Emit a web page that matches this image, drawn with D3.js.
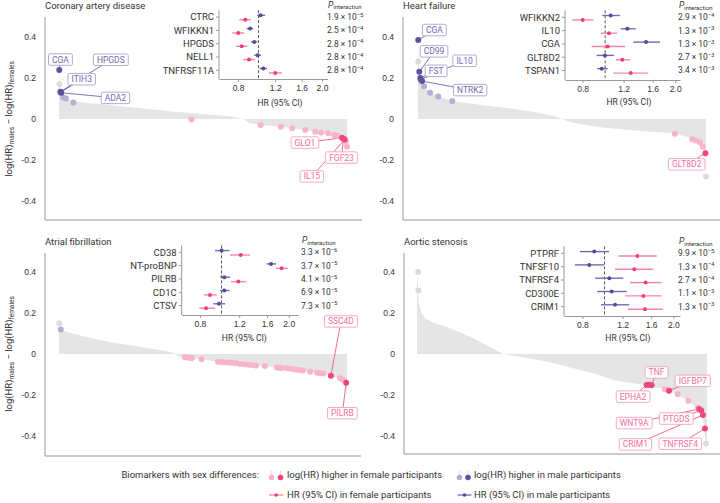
<!DOCTYPE html>
<html><head><meta charset="utf-8">
<script src="https://cdn.jsdelivr.net/npm/d3@7/dist/d3.min.js"></script>
<style>
html,body{margin:0;padding:0;background:#fff;}
svg{display:block;font-family:Roboto,"Liberation Sans",Arial,sans-serif;}
</style></head><body>
<svg id="chart" width="720" height="503"></svg>
<script>
// ================= DATA =================
const panelTitles = ["Coronary artery disease", "Heart failure", "Atrial fibrillation", "Aortic stenosis"];
const diffTicks = [-0.4, -0.2, 0, 0.2, 0.4];
const hrTicks = [0.8, 1.2, 1.6, 2.0];

// Sorted log(HR)males - log(HR)females over all biomarkers (rank in % of biomarkers)
const cadEnvRank = [0,0.25,0.5,1.2,2.5,5,10,20,30,40,50,60,64,66,70,77,81,85,89,92,95,97.5,99,99.6,100];
const cadEnvDiff = [0.24,0.17,0.135,0.11,0.10,0.085,0.078,0.065,0.05,0.035,0.025,0.012,0.0,-0.02,-0.029,-0.038,-0.045,-0.054,-0.062,-0.07,-0.078,-0.089,-0.099,-0.111,-0.135];
const hfEnvRank = [0,0.2,0.45,1,2,4,7,12,20,30,40,47,50,52,61,73,89,95.5,97.5,99,99.8,100];
const hfEnvDiff = [0.385,0.28,0.23,0.195,0.16,0.13,0.11,0.088,0.072,0.055,0.035,0.015,0.0,-0.012,-0.037,-0.054,-0.07,-0.095,-0.11,-0.135,-0.175,-0.28];
const afEnvRank = [0,0.3,2.5,8,14,20,26,32,37,40,42,50,55,62,68,75,80,84,87,90,94,97,98.5,99.3,99.7,100];
const afEnvDiff = [0.15,0.12,0.108,0.088,0.068,0.053,0.04,0.026,0.015,0.005,-0.016,-0.026,-0.038,-0.045,-0.055,-0.066,-0.075,-0.08,-0.086,-0.092,-0.105,-0.12,-0.13,-0.14,-0.17,-0.21];
const asEnvRank = [0,0.4,0.6,1.5,2.8,6,10,15,19.4,25,29.7,35,44.7,50,56.2,62,67.7,73,79.2,86,90,93,97,98.7,99.3,99.7,100];
const asEnvDiff = [0.4,0.31,0.25,0.2,0.174,0.15,0.133,0.105,0.077,0.035,0.0,-0.012,-0.037,-0.055,-0.078,-0.1,-0.127,-0.14,-0.151,-0.176,-0.2,-0.224,-0.265,-0.322,-0.40,-0.44,-0.45];

// Highlighted biomarkers: [rank %, difference, kind, name]
// kind: n = not significant, m/M = higher in males (light/dark), f/F = higher in females (light/dark)
const cadPoints = [
  [0.15,0.17,"n"],[0.1,0.239,"M","CGA"],[0.5,0.133,"M","HPGDS"],[0.6,0.13,"M","ITIH3"],[0.75,0.128,"M","ADA2"],
  [1.5,0.105,"m"],[2.4,0.1,"m"],[5,0.08,"m"],
  [46,-0.002,"f"],[70,-0.029,"f"],[77,-0.038,"f"],[81,-0.045,"f"],[85.5,-0.054,"f"],[89,-0.062,"f"],[91,-0.066,"f"],
  [93.5,-0.07,"f"],[95.5,-0.078,"f"],[96.5,-0.082,"f"],
  [98.3,-0.092,"F","GLO1"],[98.8,-0.097,"F","FGF23"],[99.2,-0.1,"F","IL15"],[99.6,-0.111,"f"],[100,-0.135,"f"]
];
const hfPoints = [
  [0.1,0.28,"n"],[0.1,0.385,"M","CGA"],[0.45,0.23,"M","CD99"],[0.8,0.2,"M","FST"],[1.0,0.193,"M","IL10"],[1.4,0.185,"M","NTRK2"],
  [2.1,0.16,"m"],[4.2,0.128,"m"],[7.0,0.11,"m"],[11.9,0.088,"m"],
  [89.2,-0.072,"f"],[95.2,-0.099,"f"],[96.5,-0.105,"f"],[97.9,-0.115,"f"],[98.9,-0.135,"f"],
  [99.8,-0.167,"F","GLT8D2"],[100,-0.28,"n"]
];
const afPoints = [
  [0.1,0.15,"n"],[0.6,0.12,"m"],
  [43.75,-0.016,"f"],[44.6,-0.017,"f"],[45.5,-0.018,"f"],[46.2,-0.02,"f"],[49.5,-0.026,"f"],
  [55.2,-0.038,"f"],[56.25,-0.039,"f"],[57.3,-0.04,"f"],[58.7,-0.042,"f"],[60.1,-0.043,"f"],[61.5,-0.045,"f"],
  [62.8,-0.049,"f"],[64.2,-0.05,"f"],[65.6,-0.052,"f"],[67,-0.054,"f"],[68.4,-0.056,"f"],[71.5,-0.059,"f"],
  [75.7,-0.066,"f"],[76.7,-0.067,"f"],[77.4,-0.068,"f"],[79.2,-0.07,"f"],[80.6,-0.072,"f"],[81.9,-0.075,"f"],
  [83.3,-0.078,"f"],[84.7,-0.08,"f"],[87.2,-0.086,"f"],[89.6,-0.092,"f"],[90.6,-0.093,"f"],[91.7,-0.095,"f"],
  [94.4,-0.106,"F","SSC4D"],[97.6,-0.118,"f"],[98.6,-0.126,"f"],[99.7,-0.14,"F","PILRB"]
];
const asPoints = [
  [0.4,0.4,"n"],[0.45,0.31,"n"],
  [79.2,-0.151,"F","EPHA2"],[80.0,-0.15,"F"],[80.9,-0.152,"F","TNF"],
  [85.5,-0.172,"f"],[86.9,-0.179,"F","IGFBP7"],[89.9,-0.196,"f"],[93.6,-0.228,"f"],[96.8,-0.262,"f"],
  [97.3,-0.268,"F","WNT9A"],[98.0,-0.276,"F","PTGDS"],[98.6,-0.298,"F","CRIM1"],[99.3,-0.363,"F","TNFRSF4"],[99.7,-0.436,"n"]
];

// Label boxes: [name, rank %, difference] of the box centre
const cadLabels = [["CGA",0.5,0.29],["HPGDS",18,0.289],["ITIH3",7.9,0.194],["ADA2",19.6,0.103],["GLO1",85.4,-0.115],["FGF23",98.1,-0.188],["IL15",87.8,-0.28]];
const hfLabels = [["CGA",5.7,0.434],["CD99",5.56,0.33],["FST",6.3,0.235],["IL10",16.2,0.284],["NTRK2",18.1,0.141],["GLT8D2",93.3,-0.221]];
const afLabels = [["SSC4D",97.9,0.159],["PILRB",98.4,-0.289]];
const asLabels = [["TNF",82.6,-0.09],["EPHA2",74.5,-0.208],["IGFBP7",95.1,-0.131],["WNT9A",74.9,-0.337],["PTGDS",89.4,-0.315],["CRIM1",75.3,-0.441],["TNFRSF4",90.8,-0.438]];

// Forest-plot insets: HR (95% CI) by sex, P for interaction
const cadInsetNames = ["CTRC","WFIKKN1","HPGDS","NELL1","TNFRSF11A"];
const cadMaleHR = [1.024,0.912,0.955,0.991,1.054], cadMaleLo = [0.987,0.879,0.922,0.955,1.013], cadMaleHi = [1.073,0.945,0.987,1.028,1.097];
const cadFemaleHR = [0.866,0.802,0.833,0.902,1.201], cadFemaleLo = [0.811,0.751,0.782,0.847,1.121], cadFemaleHi = [0.922,0.857,0.885,0.963,1.292];
const cadPMant = ["1.9","2.5","2.8","2.8","2.8"], cadPExp = [-5,-4,-4,-4,-4];

const hfInsetNames = ["WFIKKN2","IL10","CGA","GLT8D2","TSPAN1"];
const hfMaleHR = [1.056,1.245,1.498,0.998,0.966], hfMaleLo = [0.972,1.166,1.321,0.919,0.925], hfMaleHi = [1.158,1.353,1.720,1.091,1.025];
const hfFemaleHR = [0.80,1.038,1.025,1.184,1.287], hfFemaleLo = [0.722,0.959,0.875,1.113,1.083], hfFemaleHi = [0.889,1.127,1.217,1.278,1.532];
const hfPMant = ["2.9","1.3","1.3","2.7","3.4"], hfPExp = [-4,-3,-3,-3,-3];

const afInsetNames = ["CD38","NT-proBNP","PILRB","CD1C","CTSV"];
const afMaleHR = [1.0,1.666,1.029,1.029,0.974], afMaleLo = [0.935,1.593,0.985,0.985,0.919], afMaleHi = [1.084,1.754,1.092,1.084,1.037];
const afFemaleHR = [1.219,1.859,1.189,0.888,0.852], afFemaleLo = [1.092,1.749,1.103,0.835,0.795], afFemaleHi = [1.342,1.978,1.287,0.952,0.935];
const afPMant = ["3.3","3.7","4.1","6.9","7.3"], afPExp = [-6,-5,-5,-5,-5];

const asInsetNames = ["PTPRF","TNFSF10","TNFRSF4","CD300E","CRIM1"];
const asMaleHR = [0.902,0.858,1.049,1.075,1.112], asMaleLo = [0.781,0.743,0.909,0.930,0.965], asMaleHi = [1.046,0.995,1.208,1.251,1.284];
const asFemaleHR = [1.392,1.350,1.514,1.479,1.503], asFemaleLo = [1.149,1.111,1.293,1.229,1.264], asFemaleHi = [1.692,1.635,1.779,1.779,1.797];
const asPMant = ["9.9","1.3","2.7","1.1","1.3"], asPExp = [-5,-4,-4,-3,-3];

const legendTitle = "Biomarkers with sex differences:";
const legendTexts = ["log(HR) higher in female participants","log(HR) higher in male participants","HR (95% CI) in female participants","HR (95% CI) in male participants"];

// ================= STYLE =================
const C = {
  fDark:"#ef467b", fLight:"#f8b4c9", mDark:"#5f519e", mLight:"#b4add6", nDot:"#dcdcdc",
  area:"#e5e5e5", axis:"#999", text:"#333",
  fLabel:"#f0709a", fBox:"#f5a2be", mLabel:"#7567b2", mBox:"#aaa2d2",
  fLine:"#f585aa", fPt:"#ee3f76", mLine:"#7568b2", mPt:"#574a99"
};
const svg = d3.select("#chart");

// ================= MAIN PANELS =================
const panels = [
  {title:panelTitles[0], ax:45, x0:59, w:288, zeroY:119, top:17, bottom:220, xEnd:362, titleY:9, env:[cadEnvRank,cadEnvDiff], pts:cadPoints, labels:cadLabels},
  {title:panelTitles[1], ax:403, x0:418, w:288, zeroY:119, top:17, bottom:220, xEnd:720, titleY:9, env:[hfEnvRank,hfEnvDiff], pts:hfPoints, labels:hfLabels},
  {title:panelTitles[2], ax:45, x0:59, w:288, zeroY:354, top:253, bottom:456, xEnd:361, titleY:244.5, env:[afEnvRank,afEnvDiff], pts:afPoints, labels:afLabels},
  {title:panelTitles[3], ax:404, x0:417, w:290, zeroY:354, top:253, bottom:454, xEnd:720, titleY:244.5, env:[asEnvRank,asEnvDiff], pts:asPoints, labels:asLabels}
];

panels.forEach(p => {
  const g = svg.append("g");
  const x = d3.scaleLinear().domain([0,100]).range([p.x0, p.x0 + p.w]);
  const y = d3.scaleLinear().domain([-0.4,0.4]).range([p.zeroY + 82, p.zeroY - 82]);

  g.append("text").attr("x", p.ax).attr("y", p.titleY).attr("font-size", 9.5).attr("fill", C.text).text(p.title);

  const envData = p.env[0].map((r,i) => [r, p.env[1][i]]);
  g.append("path").datum(envData)
    .attr("d", d3.area().x(d => x(d[0])).y0(y(0)).y1(d => y(d[1])))
    .attr("fill", C.area);

  g.append("line").attr("x1", p.ax).attr("x2", p.ax).attr("y1", p.top).attr("y2", p.bottom).attr("stroke", C.axis);
  g.append("line").attr("x1", p.ax).attr("x2", p.xEnd).attr("y1", p.bottom).attr("y2", p.bottom).attr("stroke", C.axis);
  const ya = g.append("g").attr("transform", `translate(${p.ax},0)`)
    .call(d3.axisLeft(y).tickValues(diffTicks).tickSize(0).tickPadding(9).tickFormat(d => d === 0 ? "0" : d.toFixed(1)));
  ya.select(".domain").remove();
  ya.selectAll("text").attr("font-size", 8.5).attr("fill", C.text).attr("font-family", null);

  const lineG = g.append("g");
  const dotG = g.append("g");
  const boxG = g.append("g");
  p.labels.forEach(l => {
    const pt = p.pts.find(d => d[3] === l[0]);
    const fem = pt[1] < 0;
    lineG.append("line").attr("x1", x(l[1])).attr("y1", y(l[2])).attr("x2", x(pt[0])).attr("y2", y(pt[1]))
      .attr("stroke", fem ? C.fDark : C.mDark).attr("stroke-width", 0.8);
  });

  const order = {n:0, m:1, f:1, M:2, F:2};
  const col = {n:C.nDot, m:C.mLight, f:C.fLight, M:C.mDark, F:C.fDark};
  const sorted = p.pts.slice().sort((a,b) => order[a[2]] - order[b[2]]);
  dotG.selectAll("circle").data(sorted).join("circle")
    .attr("cx", d => x(d[0])).attr("cy", d => y(d[1])).attr("r", 3)
    .attr("fill", d => col[d[2]]);

  p.labels.forEach(l => {
    const pt = p.pts.find(d => d[3] === l[0]);
    const fem = pt[1] < 0;
    const bg = boxG.append("g");
    const rect = bg.append("rect");
    const t = bg.append("text").attr("x", x(l[1])).attr("y", y(l[2])).attr("dy", "0.35em")
      .attr("text-anchor", "middle").attr("font-size", 8.5).attr("fill", fem ? C.fLabel : C.mLabel).text(l[0]);
    const tw = t.node().getComputedTextLength();
    const bw = tw + 7, bh = 11.5;
    rect.attr("x", x(l[1]) - bw/2).attr("y", y(l[2]) - bh/2).attr("width", bw).attr("height", bh)
      .attr("rx", 1.5).attr("fill", "#fff").attr("stroke", fem ? C.fBox : C.mBox).attr("stroke-width", 0.9);
  });
});

[119, 354].forEach(cy => {
  const t = svg.append("text").attr("transform", `translate(12,${cy}) rotate(-90)`)
    .attr("text-anchor", "middle").attr("font-size", 9.5).attr("fill", C.text);
  t.append("tspan").text("log(HR)");
  t.append("tspan").attr("font-size", 6.5).attr("dy", 2).text("males");
  t.append("tspan").attr("dy", -2).text(" \u2212 log(HR)");
  t.append("tspan").attr("font-size", 6.5).attr("dy", 2).text("females");
});

// ================= INSETS =================
const insets = [
  {names:cadInsetNames, mHR:cadMaleHR, mLo:cadMaleLo, mHi:cadMaleHi, fHR:cadFemaleHR, fLo:cadFemaleLo, fHi:cadFemaleHi, pm:cadPMant, pe:cadPExp,
   domain:[0.65,2.123], range:[219,327.5], row0:17.1, axisY:79, pX:327, hrY:106},
  {names:hfInsetNames, mHR:hfMaleHR, mLo:hfMaleLo, mHi:hfMaleHi, fHR:hfFemaleHR, fLo:hfFemaleLo, fHi:hfFemaleHi, pm:hfPMant, pe:hfPExp,
   domain:[0.672,2.097], range:[565,680], row0:17.3, axisY:80, pX:678, hrY:105},
  {names:afInsetNames, mHR:afMaleHR, mLo:afMaleLo, mHi:afMaleHi, fHR:afFemaleHR, fLo:afFemaleLo, fHi:afFemaleHi, pm:afPMant, pe:afPExp,
   domain:[0.663,2.207], range:[181.7,298.3], row0:252.4, axisY:315, pX:301, hrY:341},
  {names:asInsetNames, mHR:asMaleHR, mLo:asMaleLo, mHi:asMaleHi, fHR:asFemaleHR, fLo:asFemaleLo, fHi:asFemaleHi, pm:asPMant, pe:asPExp,
   domain:[0.665,2.139], range:[564,680], row0:253.4, axisY:316, pX:678, hrY:341}
];

insets.forEach(ins => {
  const g = svg.append("g");
  const hx = d3.scaleLog().domain(ins.domain).range(ins.range);
  const rowY = i => ins.row0 + i * 13.3;
  const x0 = ins.range[0];

  g.append("line").attr("x1", x0).attr("x2", x0).attr("y1", ins.row0 - 7).attr("y2", ins.axisY).attr("stroke", C.axis);
  ins.names.forEach((n, i) => {
    g.append("line").attr("x1", x0 - 3).attr("x2", x0).attr("y1", rowY(i)).attr("y2", rowY(i)).attr("stroke", C.axis);
    g.append("text").attr("x", x0 - 5).attr("y", rowY(i)).attr("dy", "0.35em").attr("text-anchor", "end")
      .attr("font-size", 9.5).attr("fill", C.text).text(n);
  });
  const xa = g.append("g").attr("transform", `translate(0,${ins.axisY})`)
    .call(d3.axisBottom(hx).tickValues(hrTicks).tickSize(3).tickSizeOuter(0).tickPadding(3).tickFormat(d3.format(".1f")));
  xa.select(".domain").attr("stroke", C.axis);
  xa.selectAll(".tick line").attr("stroke", C.axis);
  xa.selectAll("text").attr("font-size", 8.5).attr("fill", C.text).attr("font-family", null);
  g.append("text").attr("x", (hx(0.8) + hx(2.0)) / 2).attr("y", ins.hrY).attr("text-anchor", "middle")
    .attr("font-size", 8.5).attr("fill", C.text).text("HR (95% CI)");

  g.append("line").attr("x1", hx(1)).attr("x2", hx(1)).attr("y1", ins.row0 - 7).attr("y2", ins.axisY)
    .attr("stroke", "#444").attr("stroke-width", 0.9).attr("stroke-dasharray", "3,2");

  ins.names.forEach((n, i) => {
    const ym = rowY(i) - 1.8, yf = rowY(i) + 2.6;
    g.append("line").attr("x1", hx(ins.mLo[i])).attr("x2", hx(ins.mHi[i])).attr("y1", ym).attr("y2", ym)
      .attr("stroke", C.mLine).attr("stroke-width", 1.4);
    g.append("circle").attr("cx", hx(ins.mHR[i])).attr("cy", ym).attr("r", 2).attr("fill", C.mPt);
    g.append("line").attr("x1", hx(ins.fLo[i])).attr("x2", hx(ins.fHi[i])).attr("y1", yf).attr("y2", yf)
      .attr("stroke", C.fLine).attr("stroke-width", 1.4);
    g.append("circle").attr("cx", hx(ins.fHR[i])).attr("cy", yf).attr("r", 2).attr("fill", C.fPt);

    const t = g.append("text").attr("x", ins.pX).attr("y", rowY(i)).attr("dy", "0.35em")
      .attr("font-size", 8.4).attr("fill", C.text);
    t.append("tspan").text(ins.pm[i] + " \u00d7 10");
    t.append("tspan").attr("font-size", 6).attr("dy", -3.3).text("\u2212" + Math.abs(ins.pe[i]));
  });

  const h = g.append("text").attr("x", ins.pX + 1).attr("y", ins.row0 - 9.2).attr("font-size", 8.6).attr("fill", C.text);
  h.append("tspan").attr("font-style", "italic").text("P");
  h.append("tspan").attr("font-size", 6).attr("dy", 1.5).text("interaction");
});

// ================= LEGEND =================
const lg = svg.append("g");
const ly1 = 474.5, ly2 = 495;
lg.append("text").attr("x", 259).attr("y", ly1).attr("dy", "0.35em").attr("text-anchor", "end")
  .attr("font-size", 9.5).attr("fill", C.text).text(legendTitle);
[[271.5, C.fLight], [280.5, C.fDark], [459.5, C.mLight], [468, C.mDark]].forEach(d => {
  lg.append("line").attr("x1", d[0]).attr("x2", d[0]).attr("y1", ly1 - 4).attr("y2", ly1 + 3).attr("stroke", "#e3e3e3").attr("stroke-width", 1.5);
  lg.append("circle").attr("cx", d[0]).attr("cy", ly1 + 3).attr("r", 2.8).attr("fill", d[1]);
});
lg.append("text").attr("x", 287).attr("y", ly1).attr("dy", "0.35em").attr("font-size", 9.5).attr("fill", C.text).text(legendTexts[0]);
lg.append("text").attr("x", 474).attr("y", ly1).attr("dy", "0.35em").attr("font-size", 9.5).attr("fill", C.text).text(legendTexts[1]);
[[269, 283.5, C.fLine, C.fPt], [457.6, 471.4, C.mLine, C.mPt]].forEach(d => {
  lg.append("line").attr("x1", d[0]).attr("x2", d[1]).attr("y1", ly2).attr("y2", ly2).attr("stroke", d[2]).attr("stroke-width", 1.3);
  lg.append("circle").attr("cx", (d[0] + d[1]) / 2).attr("cy", ly2).attr("r", 1.8).attr("fill", d[3]);
});
lg.append("text").attr("x", 287).attr("y", ly2).attr("dy", "0.35em").attr("font-size", 9.5).attr("fill", C.text).text(legendTexts[2]);
lg.append("text").attr("x", 474).attr("y", ly2).attr("dy", "0.35em").attr("font-size", 9.5).attr("fill", C.text).text(legendTexts[3]);
</script>
</body></html>
